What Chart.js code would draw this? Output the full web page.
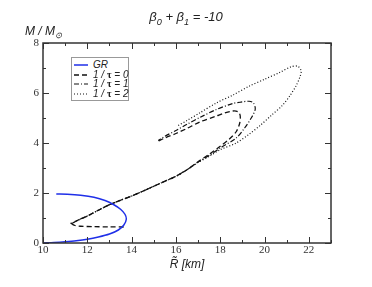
<!DOCTYPE html>
<html>
<head>
<meta charset="utf-8">
<script src="https://cdn.jsdelivr.net/npm/chart.js@4/dist/chart.umd.min.js"></script>
<style>
  body { margin: 0; background: #fff; }
  #wrap { position: relative; width: 372px; height: 287px; }
  canvas { position: absolute; left: 0; top: 0; }
  .lbl { position: absolute; font-family: "Liberation Sans", Arial, sans-serif; font-style: italic; color: #222; white-space: nowrap; }
  .lbl sub { font-size: 70%; }
  #title { left: 0; width: 372px; top: 9px; text-align: center; font-size: 13px; }
  #ylab { left: 25px; top: 24px; font-size: 12px; }
  #xlab { left: 0; width: 374px; top: 257px; text-align: center; font-size: 12px; }
  #legend { position: absolute; left: 71px; top: 57px; width: 56px; height: 42px; border: 1px solid #999; background: #fff; }
  .row { position: absolute; left: 0; height: 10px; font-family: "Liberation Sans", Arial, sans-serif; font-style: italic; font-size: 10px; line-height: 10px; color: #222; }
  .row svg { position: absolute; left: 2px; top: 1px; }
  .row span { position: absolute; left: 21px; top: 0; white-space: nowrap; }
  .row b { font-family: "Liberation Serif", serif; font-style: normal; }
</style>
</head>
<body>
<div id="wrap">
  <canvas id="chart" width="372" height="287"></canvas>
  <div class="lbl" id="title">&beta;<sub>0</sub> + &beta;<sub>1</sub> = -10</div>
  <div class="lbl" id="ylab">M / M<sub>&#8857;</sub></div>
  <div class="lbl" id="xlab">R&#771; [km]</div>
  <div id="legend"></div>
</div>
<script>
/* ── Data ─────────────────────────────────────────────────────────────── */
const xTicks = [10, 12, 14, 16, 18, 20, 22];
const yTicks = [0, 2, 4, 6, 8];

const grR = [10.0, 10.5, 11.0, 11.5, 12.0, 12.5, 13.0, 13.4, 13.65, 13.76, 13.7, 13.5, 13.2, 12.8, 12.3, 11.7, 11.1, 10.6];
const grM = [0.0, 0.02, 0.05, 0.09, 0.15, 0.24, 0.36, 0.52, 0.72, 0.95, 1.15, 1.35, 1.53, 1.7, 1.83, 1.91, 1.95, 1.96];

// shared lower branch of the three scalarized sequences
const baseR = [11.3, 11.6, 12.0, 12.5, 13.0, 13.5, 14.0, 14.5, 15.0, 15.5, 16.0, 16.5];
const baseM = [0.78, 0.92, 1.08, 1.31, 1.53, 1.71, 1.88, 2.07, 2.27, 2.47, 2.67, 2.93];

const tau0R = [13.64, 13.0, 12.3, 11.7, 11.45, ...baseR, 17.0, 17.5, 18.0, 18.4, 18.72, 18.88, 18.9, 18.8, 18.57, 18.2, 17.8, 17.1, 16.47, 16.0, 15.5, 15.2];
const tau0M = [0.64, 0.645, 0.655, 0.67, 0.7, ...baseM, 3.25, 3.55, 3.87, 4.15, 4.45, 4.8, 5.1, 5.25, 5.28, 5.2, 5.07, 4.85, 4.57, 4.38, 4.2, 4.07];

const tau1R = [11.25, ...baseR, 17.0, 17.5, 18.0, 18.72, 19.1, 19.4, 19.58, 19.5, 19.3, 18.9, 18.57, 17.8, 17.1, 16.5, 16.0, 15.5, 15.2];
const tau1M = [0.8, ...baseM, 3.24, 3.5, 3.8, 4.2, 4.6, 5.0, 5.35, 5.6, 5.67, 5.63, 5.58, 5.33, 5.03, 4.75, 4.5, 4.27, 4.1];

const tau2R = [11.25, ...baseR, 17.0, 17.5, 18.0, 18.72, 19.3, 19.8, 20.3, 20.8, 21.15, 21.43, 21.62, 21.65, 21.5, 21.2, 20.68, 20.0, 19.3, 18.6, 17.82, 17.07, 16.5, 16.1];
const tau2M = [0.8, ...baseM, 3.22, 3.47, 3.73, 4.0, 4.35, 4.7, 5.1, 5.5, 5.9, 6.3, 6.7, 6.9, 7.07, 7.05, 6.82, 6.55, 6.27, 5.93, 5.6, 5.2, 4.9, 4.7];

const pts = (xs, ys) => xs.map((x, i) => ({ x, y: ys[i] }));

/* ── Series styles ────────────────────────────────────────────────────── */
const series = [
  { label: 'GR',        data: pts(grR, grM),     color: '#1f2fe8', dash: [],           width: 1.5, legend: 'GR' },
  { label: '1/tau = 0', data: pts(tau0R, tau0M), color: '#111',    dash: [5, 3],       width: 1.3, legend: '1 / <b>&tau;</b> = 0' },
  { label: '1/tau = 1', data: pts(tau1R, tau1M), color: '#111',    dash: [5, 2, 1, 2], width: 1.2, legend: '1 / <b>&tau;</b> = 1' },
  { label: '1/tau = 2', data: pts(tau2R, tau2M), color: '#111',    dash: [1, 2],       width: 1.2, legend: '1 / <b>&tau;</b> = 2' },
];

/* ── Inward ticks + frame on all four sides ───────────────────────────── */
const frameTicks = {
  id: 'frameTicks',
  afterDatasetsDraw(chart) {
    const { ctx, chartArea: a, scales: { x, y } } = chart;
    ctx.save();
    ctx.strokeStyle = '#333';
    ctx.lineWidth = 1;
    ctx.beginPath();
    for (let v = 10; v <= 23; v++) {
      const px = Math.round(x.getPixelForValue(v)) + 0.5;
      const len = v % 2 === 0 ? 6 : 3;
      ctx.moveTo(px, a.bottom); ctx.lineTo(px, a.bottom - len);
      ctx.moveTo(px, a.top);    ctx.lineTo(px, a.top + len);
    }
    for (let v = 0; v <= 8; v++) {
      const py = Math.round(y.getPixelForValue(v)) + 0.5;
      const len = v % 2 === 0 ? 6 : 3;
      ctx.moveTo(a.left, py);  ctx.lineTo(a.left + len, py);
      ctx.moveTo(a.right, py); ctx.lineTo(a.right - len, py);
    }
    ctx.stroke();
    ctx.lineWidth = 1.5;
    ctx.strokeRect(a.left, a.top, a.right - a.left, a.bottom - a.top);
    ctx.restore();
  },
};

/* ── Chart ────────────────────────────────────────────────────────────── */
const tickFont = { family: '"Liberation Serif", "Times New Roman", serif', size: 11 };

new Chart(document.getElementById('chart').getContext('2d'), {
  type: 'scatter',
  data: {
    datasets: series.map(s => ({
      label: s.label,
      data: s.data,
      showLine: true,
      borderColor: s.color,
      borderDash: s.dash,
      borderWidth: s.width,
      pointRadius: 0,
      tension: 0.3,
      fill: false,
    })),
  },
  options: {
    responsive: false,
    animation: false,
    layout: { padding: { top: 43, right: 41, left: 0, bottom: 0 } },
    plugins: { legend: { display: false }, tooltip: { enabled: false } },
    scales: {
      x: {
        type: 'linear', min: 10, max: 23,
        afterBuildTicks: s => { s.ticks = xTicks.map(v => ({ value: v })); },
        afterFit: s => { s.height = 44; },
        ticks: { color: '#333', font: tickFont, padding: 1, maxRotation: 0 },
        grid: { display: false, drawTicks: false },
        border: { display: false },
      },
      y: {
        type: 'linear', min: 0, max: 8,
        afterBuildTicks: s => { s.ticks = yTicks.map(v => ({ value: v })); },
        afterFit: s => { s.width = 43; },
        ticks: { color: '#333', font: tickFont, padding: 4 },
        grid: { display: false, drawTicks: false },
        border: { display: false },
      },
    },
  },
  plugins: [frameTicks],
});

/* ── Legend box (HTML, inside the plot) ───────────────────────────────── */
const legendEl = document.getElementById('legend');
series.forEach((s, i) => {
  const row = document.createElement('div');
  row.className = 'row';
  row.style.top = (2 + i * 9.5) + 'px';
  row.innerHTML =
    `<svg width="16" height="8"><line x1="0" y1="4" x2="14" y2="4" stroke="${s.color}" stroke-width="${s.width}" stroke-dasharray="${s.dash.join(' ')}"/></svg>` +
    `<span>${s.legend}</span>`;
  legendEl.appendChild(row);
});
</script>
</body>
</html>
